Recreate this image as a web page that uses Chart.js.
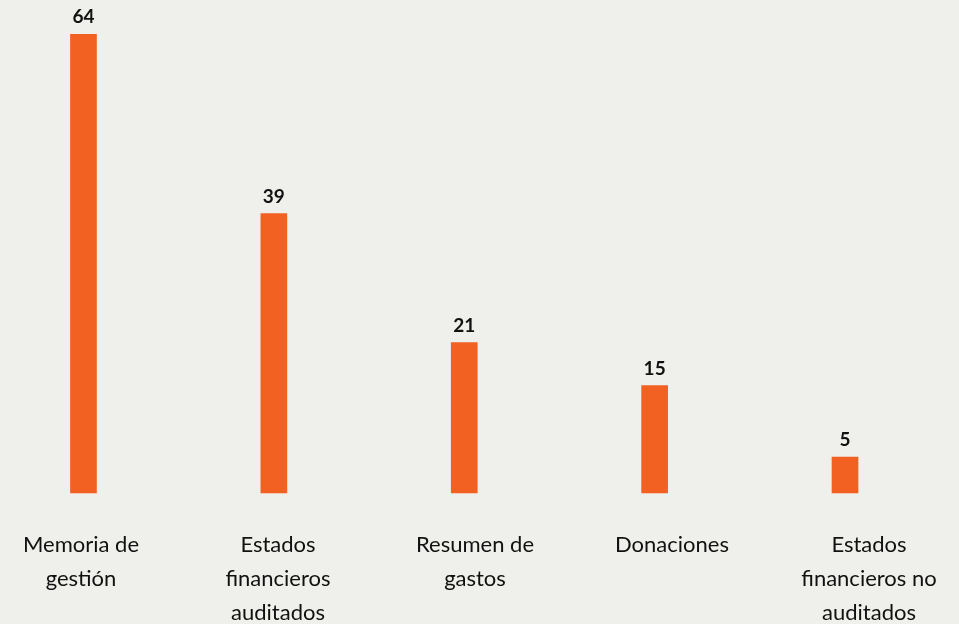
<!DOCTYPE html>
<html>
<head>
<meta charset="utf-8">
<script src="https://cdn.jsdelivr.net/npm/chart.js@4/dist/chart.umd.min.js"></script>
<style>
  html, body { margin: 0; padding: 0; background: #efefeb; }
  #wrap { width: 959px; height: 624px; position: relative; }
</style>
</head>
<body>
<div id="wrap"><canvas id="c" width="959" height="624"></canvas></div>
<script>
const categories = [
  ['Memoria de', 'gestión'],
  ['Estados', 'financieros', 'auditados'],
  ['Resumen de', 'gastos'],
  ['Donaciones'],
  ['Estados', 'financieros no', 'auditados']
];
const values = [64, 39, 21, 15, 5];

const BAR_COLOR = '#f26122';
const TEXT_COLOR = '#111111';

const valueLabels = {
  id: 'valueLabels',
  afterDatasetsDraw(chart) {
    const ctx = chart.ctx;
    const meta = chart.getDatasetMeta(0);
    ctx.save();
    ctx.font = 'bold 19px Lato';
    ctx.fillStyle = TEXT_COLOR;
    ctx.textAlign = 'center';
    ctx.textBaseline = 'alphabetic';
    meta.data.forEach((el, i) => {
      ctx.fillText(String(values[i]), el.x, el.y - 11);
    });
    ctx.restore();
  }
};

new Chart(document.getElementById('c'), {
  type: 'bar',
  data: {
    labels: categories,
    datasets: [{
      data: values.map((v, i) => ({ x: i, y: v })),
      backgroundColor: BAR_COLOR,
      borderWidth: 0,
      barThickness: 26,
      xAxisID: 'xb',
      clip: false
    }]
  },
  options: {
    responsive: false,
    animation: false,
    devicePixelRatio: 1,
    layout: { padding: { left: 81, right: 90, top: 20, bottom: 0 } },
    plugins: { legend: { display: false }, tooltip: { enabled: false } },
    scales: {
      x: {
        type: 'category',
        offset: false,
        grid: { display: false },
        border: { display: false },
        afterFit(scale) {
          scale.height = 131;
          scale.paddingLeft = 0;
          scale.paddingRight = 0;
        },
        ticks: {
          autoSkip: false,
          maxRotation: 0,
          minRotation: 0,
          padding: 27,
          color: TEXT_COLOR,
          font: { family: 'Lato', size: 22, lineHeight: 1.55 }
        }
      },
      xb: {
        type: 'linear',
        display: false,
        offset: false,
        min: -0.013,
        max: 4.126
      },
      y: {
        display: false,
        min: 0,
        max: 66.0
      }
    }
  },
  plugins: [valueLabels]
});
</script>
</body>
</html>
